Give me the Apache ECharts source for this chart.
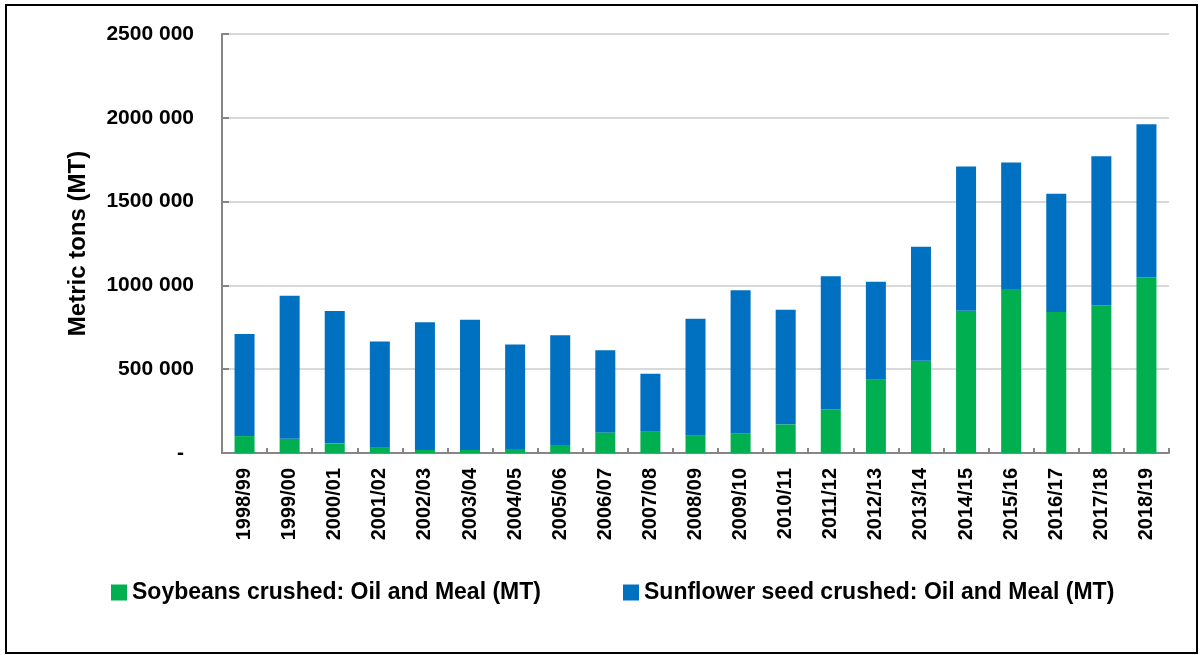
<!DOCTYPE html>
<html>
<head>
<meta charset="utf-8">
<script src="https://cdn.jsdelivr.net/npm/echarts@6/dist/echarts.min.js"></script>
<style>
  html, body { margin: 0; padding: 0; background: #fff; }
  #chart { position: absolute; left: 0; top: 0; width: 1203px; height: 655px; }
  .frame { position: absolute; left: 5px; top: 4px; width: 1193px; height: 650px;
           box-sizing: border-box; border: 2px solid #000; pointer-events: none; }
</style>
</head>
<body>
<div id="chart"></div>
<div class="frame"></div>
<script>
const seasons = ['1998/99', '1999/00', '2000/01', '2001/02', '2002/03', '2003/04', '2004/05',
    '2005/06', '2006/07', '2007/08', '2008/09', '2009/10', '2010/11', '2011/12', '2012/13',
    '2013/14', '2014/15', '2015/16', '2016/17', '2017/18', '2018/19'];

// soybeans crushed (MT)
const soybeans = [101000, 85000, 56000, 32000, 18000, 18000, 24000, 48000, 123000, 131000, 107000,
    117000, 171000, 261000, 437000, 551000, 849000, 978000, 841000, 881000, 1048000];

// sunflower seed crushed (MT)
const sunflower = [609000, 853000, 791000, 634000, 762000, 777000, 624000, 654000, 490000, 342000,
    694000, 854000, 684000, 793000, 585000, 680000, 861000, 756000, 706000, 889000, 913000];

const seriesNames = ['Soybeans crushed: Oil and Meal (MT)', 'Sunflower seed crushed: Oil and Meal (MT)'];

const FONT = 'Liberation Sans';

const myChart = echarts.init(document.getElementById('chart'));

const legendText = { fontFamily: FONT, fontSize: 23, fontWeight: 'bold', color: '#000' };

let option = {
    animation: false,
    grid: {
        left: 222,
        right: 34,
        top: 34,
        bottom: 202
    },
    legend: [
        {
            data: [seriesNames[0]],
            left: 106,
            top: 576,
            itemWidth: 16,
            itemHeight: 16,
            icon: 'rect',
            textStyle: legendText
        },
        {
            data: [seriesNames[1]],
            left: 618,
            top: 576,
            itemWidth: 16,
            itemHeight: 16,
            icon: 'rect',
            textStyle: legendText
        }
    ],
    xAxis: {
        type: 'category',
        data: seasons,
        axisLine: { lineStyle: { color: '#868686', width: 2 } },
        axisTick: { show: true, inside: true, length: 5, lineStyle: { color: '#868686', width: 2 } },
        axisLabel: {
            interval: 0,
            rotate: 90,
            margin: 15,
            fontFamily: FONT,
            fontSize: 20,
            fontWeight: 'bold',
            color: '#000'
        }
    },
    yAxis: {
        type: 'value',
        min: 0,
        max: 2500000,
        interval: 500000,
        name: 'Metric tons (MT)',
        nameLocation: 'middle',
        nameRotate: 90,
        nameGap: 132,
        nameTextStyle: { fontFamily: FONT, fontSize: 24, fontWeight: 'bold', color: '#000' },
        axisLine: { show: true, lineStyle: { color: '#868686', width: 2 } },
        axisTick: { show: true, inside: true, length: 7, lineStyle: { color: '#868686', width: 2 } },
        splitLine: { lineStyle: { color: '#d9d9d9', width: 2 } },
        axisLabel: {
            margin: 28,
            fontFamily: FONT,
            fontSize: 21,
            fontWeight: 'bold',
            color: '#000',
            formatter: function (value) {
                if (value === 0) return '{d|-}';
                return (value / 1000) + ' 000';
            },
            rich: {
                d: { fontFamily: FONT, fontSize: 21, fontWeight: 'bold', color: '#000', padding: [0, 10, 0, 0] }
            }
        }
    },
    series: [
        {
            name: seriesNames[0],
            type: 'bar',
            stack: 'total',
            barWidth: 20,
            itemStyle: { color: '#00B050' },
            data: soybeans
        },
        {
            name: seriesNames[1],
            type: 'bar',
            stack: 'total',
            barWidth: 20,
            itemStyle: { color: '#0070C0' },
            data: sunflower
        }
    ]
};
myChart.setOption(option);
</script>
</body>
</html>
